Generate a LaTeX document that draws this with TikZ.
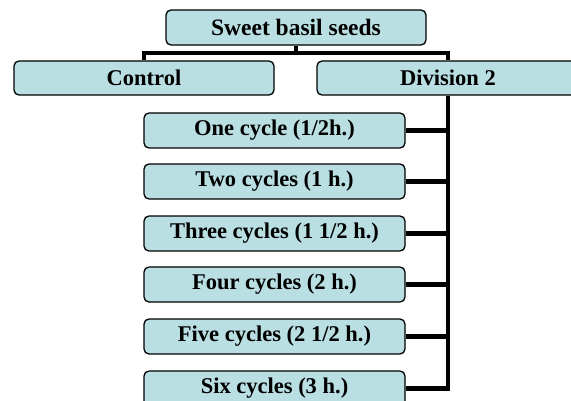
\documentclass[tikz,border=0pt]{standalone}
\usepackage{fontspec}
\setmainfont{Liberation Serif}
\definecolor{boxfill}{HTML}{B9DFE3}
\begin{document}
\begin{tikzpicture}[x=1pt,y=-1pt,
  box/.style={draw=black,line width=1.3pt,fill=boxfill,rounded corners=5pt,
    inner sep=0pt,minimum height=35pt,font=\bfseries\fontsize{22.5}{27}\selectfont},
  conn/.style={draw=black,line width=4.5pt,line join=miter}]
\useasboundingbox (0,0) rectangle (571,401);
\clip (0,0) rectangle (571,401);
\node[box,minimum width=260pt,font=\bfseries\fontsize{23.5}{28}\selectfont] (top) at (296,27.5) {Sweet basil seeds};
\node[box,minimum width=260pt,minimum height=34pt] (control) at (144,78) {Control};
\node[box,minimum width=262pt,minimum height=34pt] (division) at (448,78) {Division 2};
\node[box,minimum width=261pt] (c1) at (274.5,130.5) {One cycle (1/2h.)};
\node[box,minimum width=261pt] (c2) at (274.5,181.5) {Two cycles (1 h.)};
\node[box,minimum width=261pt] (c3) at (274.5,233.5) {Three cycles (1 1/2 h.)};
\node[box,minimum width=261pt] (c4) at (274.5,284.5) {Four cycles (2 h.)};
\node[box,minimum width=261pt] (c5) at (274.5,336.5) {Five cycles (2 1/2 h.)};
\node[box,minimum width=261pt] (c6) at (274.5,388.5) {Six cycles (3 h.)};
\coordinate (bus) at (296,53);
\draw[conn] (top.south) -- (bus);
\draw[conn] (control.north) |- (bus) -| (division.north);
\draw[conn] (division.south) |- (c6.east);
\foreach \c in {c1,c2,c3,c4,c5}{
  \draw[conn] (\c.east) -- (\c.east -| division.south);
}
\end{tikzpicture}
\end{document}
